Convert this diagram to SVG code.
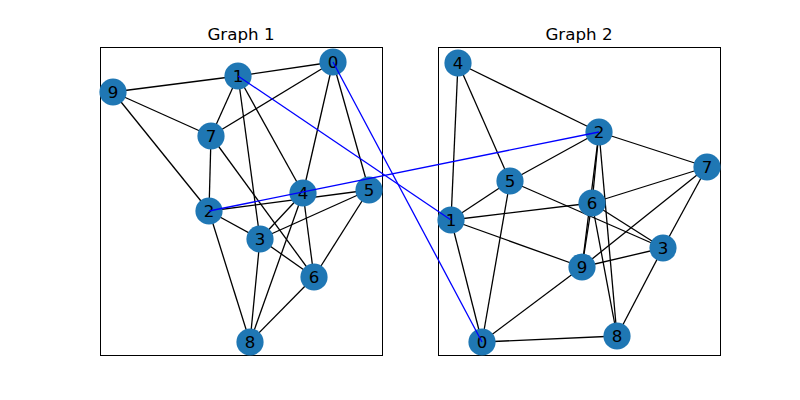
<svg xmlns="http://www.w3.org/2000/svg" width="800" height="400" viewBox="0 0 800 400">
<style>
.ax{fill:none;stroke:#000;stroke-width:1}
.e line{stroke:#000;stroke-width:1.3}
.b line{stroke:#0000ff;stroke-width:1.3}
.n circle{fill:#1f77b4}
.n text{font-family:"DejaVu Sans",sans-serif;font-size:16.7px;fill:#000;text-anchor:middle;dominant-baseline:central}
.t{font-family:"DejaVu Sans",sans-serif;font-size:16.7px;fill:#000;text-anchor:middle}
</style>
<rect width="800" height="400" fill="#fff"/>
<rect class="ax" x="100.5" y="47.5" width="282" height="308"/>
<rect class="ax" x="438.5" y="47.5" width="282" height="308"/>
<text class="t" x="241" y="40">Graph 1</text>
<text class="t" x="579" y="40">Graph 2</text>
<g id="edges1" class="e">
<line x1="113" y1="92" x2="238" y2="76"/>
<line x1="238" y1="76" x2="333" y2="62"/>
<line x1="113" y1="92" x2="211" y2="136"/>
<line x1="113" y1="92" x2="209" y2="211"/>
<line x1="238" y1="76" x2="211" y2="136"/>
<line x1="333" y1="62" x2="211" y2="136"/>
<line x1="238" y1="76" x2="260" y2="239"/>
<line x1="238" y1="76" x2="303" y2="193"/>
<line x1="333" y1="62" x2="303" y2="193"/>
<line x1="333" y1="62" x2="369" y2="190"/>
<line x1="211" y1="136" x2="209" y2="211"/>
<line x1="211" y1="136" x2="314" y2="277"/>
<line x1="209" y1="211" x2="369" y2="190"/>
<line x1="209" y1="211" x2="260" y2="239"/>
<line x1="209" y1="211" x2="250" y2="342"/>
<line x1="260" y1="239" x2="303" y2="193"/>
<line x1="260" y1="239" x2="369" y2="190"/>
<line x1="260" y1="239" x2="314" y2="277"/>
<line x1="260" y1="239" x2="250" y2="342"/>
<line x1="303" y1="193" x2="250" y2="342"/>
<line x1="303" y1="193" x2="314" y2="277"/>
<line x1="369" y1="190" x2="314" y2="277"/>
<line x1="314" y1="277" x2="250" y2="342"/>
</g>
<g id="edges2" class="e">
<line x1="458" y1="63" x2="599" y2="132"/>
<line x1="458" y1="63" x2="510" y2="181"/>
<line x1="458" y1="63" x2="451" y2="220"/>
<line x1="599" y1="132" x2="707" y2="167"/>
<line x1="599" y1="132" x2="510" y2="181"/>
<line x1="599" y1="132" x2="592" y2="203"/>
<line x1="599" y1="132" x2="582" y2="267"/>
<line x1="599" y1="132" x2="617" y2="336"/>
<line x1="510" y1="181" x2="451" y2="220"/>
<line x1="510" y1="181" x2="482" y2="342"/>
<line x1="510" y1="181" x2="663" y2="248"/>
<line x1="451" y1="220" x2="592" y2="203"/>
<line x1="451" y1="220" x2="582" y2="267"/>
<line x1="451" y1="220" x2="482" y2="342"/>
<line x1="592" y1="203" x2="707" y2="167"/>
<line x1="592" y1="203" x2="582" y2="267"/>
<line x1="592" y1="203" x2="663" y2="248"/>
<line x1="592" y1="203" x2="617" y2="336"/>
<line x1="707" y1="167" x2="582" y2="267"/>
<line x1="707" y1="167" x2="663" y2="248"/>
<line x1="582" y1="267" x2="663" y2="248"/>
<line x1="582" y1="267" x2="482" y2="342"/>
<line x1="663" y1="248" x2="617" y2="336"/>
<line x1="482" y1="342" x2="617" y2="336"/>
</g>
<g id="g1n0" class="n"><circle cx="333" cy="62" r="13.6"/><text x="333" y="62">0</text></g>
<g id="g1n1" class="n"><circle cx="238" cy="76" r="13.6"/><text x="238" y="76">1</text></g>
<g id="g1n2" class="n"><circle cx="209" cy="211" r="13.6"/><text x="209" y="211">2</text></g>
<g id="g1n3" class="n"><circle cx="260" cy="239" r="13.6"/><text x="260" y="239">3</text></g>
<g id="g1n4" class="n"><circle cx="303" cy="193" r="13.6"/><text x="303" y="193">4</text></g>
<g id="g1n5" class="n"><circle cx="369" cy="190" r="13.6"/><text x="369" y="190">5</text></g>
<g id="g1n6" class="n"><circle cx="314" cy="277" r="13.6"/><text x="314" y="277">6</text></g>
<g id="g1n7" class="n"><circle cx="211" cy="136" r="13.6"/><text x="211" y="136">7</text></g>
<g id="g1n8" class="n"><circle cx="250" cy="342" r="13.6"/><text x="250" y="342">8</text></g>
<g id="g1n9" class="n"><circle cx="113" cy="92" r="13.6"/><text x="113" y="92">9</text></g>
<g id="g2n0" class="n"><circle cx="482" cy="342" r="13.6"/><text x="482" y="342">0</text></g>
<g id="g2n1" class="n"><circle cx="451" cy="220" r="13.6"/><text x="451" y="220">1</text></g>
<g id="g2n2" class="n"><circle cx="599" cy="132" r="13.6"/><text x="599" y="132">2</text></g>
<g id="g2n3" class="n"><circle cx="663" cy="248" r="13.6"/><text x="663" y="248">3</text></g>
<g id="g2n4" class="n"><circle cx="458" cy="63" r="13.6"/><text x="458" y="63">4</text></g>
<g id="g2n5" class="n"><circle cx="510" cy="181" r="13.6"/><text x="510" y="181">5</text></g>
<g id="g2n6" class="n"><circle cx="592" cy="203" r="13.6"/><text x="592" y="203">6</text></g>
<g id="g2n7" class="n"><circle cx="707" cy="167" r="13.6"/><text x="707" y="167">7</text></g>
<g id="g2n8" class="n"><circle cx="617" cy="336" r="13.6"/><text x="617" y="336">8</text></g>
<g id="g2n9" class="n"><circle cx="582" cy="267" r="13.6"/><text x="582" y="267">9</text></g>
<g id="matches" class="b">
<line x1="238" y1="76" x2="451" y2="220"/>
<line x1="333" y1="62" x2="482" y2="342"/>
<line x1="209" y1="211" x2="599" y2="132"/>
</g>
</svg>
